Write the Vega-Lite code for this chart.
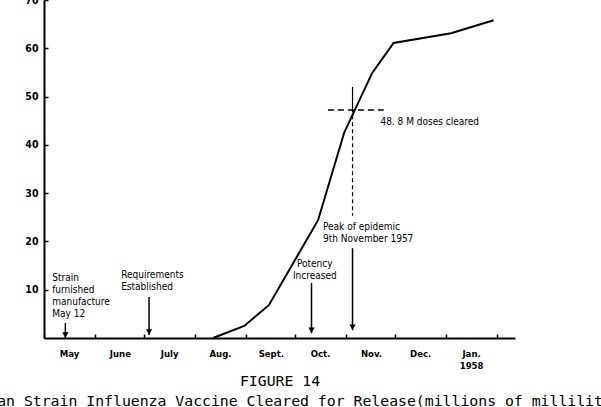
{
  "$schema": "https://vega.github.io/schema/vega-lite/v6.json",
  "width": 471,
  "height": 338,
  "autosize": {"type": "none"},
  "padding": {"left": 44, "top": 0, "right": 86, "bottom": 69},
  "background": "white",
  "config": {"view": {"stroke": null}, "font": "DejaVu Sans Condensed, Roboto, sans-serif"},
  "title": {
    "text": "Asian Strain Influenza Vaccine Cleared for Release(millions of milliliters)",
    "orient": "bottom",
    "anchor": "middle",
    "frame": "group",
    "dx": 25,
    "font": "DejaVu Sans Mono",
    "fontSize": 14.8,
    "fontWeight": "normal",
    "color": "black",
    "offset": 6
  },
  "datasets": {
    "curve": [
      {"date": "1957-08-12", "v": 0},
      {"date": "1957-08-31", "v": 2.5},
      {"date": "1957-09-15", "v": 6.8},
      {"date": "1957-10-15", "v": 24.4},
      {"date": "1957-10-31", "v": 42.6},
      {"date": "1957-11-17", "v": 54.9},
      {"date": "1957-11-30", "v": 61.1},
      {"date": "1958-01-04", "v": 63.1},
      {"date": "1958-01-30", "v": 65.8}
    ],
    "arrows": [
      {"date": "1957-05-14", "top": 3.1, "tip": 0},
      {"date": "1957-07-04", "top": 8.5, "tip": 0.6},
      {"date": "1957-10-11", "top": 11.4, "tip": 1.0},
      {"date": "1957-11-05", "top": 18.6, "tip": 1.6}
    ],
    "notesLeft": [
      {"date": "1957-05-06", "v": 13.5, "text": "Strain\nfurnished\nmanufacture\nMay 12"},
      {"date": "1957-06-17", "v": 14.1, "text": "Requirements\nEstablished"},
      {"date": "1957-10-18", "v": 24.0, "text": "Peak of epidemic\n9th November 1957"},
      {"date": "1957-11-22", "v": 45.8, "text": "48. 8 M doses cleared"}
    ],
    "notesCenter": [
      {"date": "1957-10-13", "v": 16.4, "text": "Potency\nIncreased"}
    ],
    "vsolid": [{"date": "1957-11-05", "top": 52.0, "bottom": 47.6}],
    "vdash": [{"date": "1957-11-05", "top": 47.6, "bottom": 25.3}],
    "hdash": [{"date": "1957-10-21", "date2": "1957-11-24", "v": 47.2}]
  },
  "encoding": {
    "x": {
      "field": "date",
      "type": "temporal",
      "title": "FIGURE 14",
      "scale": {
        "type": "utc",
        "domain": [
          {"year": 1957, "month": 5, "date": 1, "utc": true},
          {"year": 1958, "month": 2, "date": 12, "utc": true}
        ]
      },
      "axis": {
        "values": [
          {"year": 1957, "month": 5, "date": 1, "utc": true},
          {"year": 1957, "month": 6, "date": 1, "utc": true},
          {"year": 1957, "month": 7, "date": 1, "utc": true},
          {"year": 1957, "month": 8, "date": 1, "utc": true},
          {"year": 1957, "month": 9, "date": 1, "utc": true},
          {"year": 1957, "month": 10, "date": 1, "utc": true},
          {"year": 1957, "month": 11, "date": 1, "utc": true},
          {"year": 1957, "month": 12, "date": 1, "utc": true},
          {"year": 1958, "month": 1, "date": 1, "utc": true},
          {"year": 1958, "month": 2, "date": 1, "utc": true}
        ],
        "labelExpr": "[['Jan.','1958'], '', '', '', 'May', 'June', 'July', 'Aug.', 'Sept.', 'Oct.', 'Nov.', 'Dec.'][utcmonth(datum.value)]",
        "labelOffset": 25,
        "labelFlush": false,
        "labelOverlap": false,
        "labelFont": "DejaVu Sans Condensed, Roboto, sans-serif",
        "labelFontWeight": "bold",
        "labelFontSize": 9.5,
        "labelColor": "black",
        "labelPadding": 14,
        "labelLineHeight": 12,
        "title": "FIGURE 14",
        "titleFont": "DejaVu Sans Mono",
        "titleFontSize": 14.8,
        "titleFontWeight": "normal",
        "titleColor": "black",
        "titleAnchor": "middle",
        "titlePadding": 4,
        "grid": false,
        "domainColor": "black",
        "domainWidth": 2,
        "tickColor": "black",
        "tickWidth": 1.5,
        "tickSize": -4
      }
    }
  },
  "layer": [
    {
      "data": {"name": "curve"},
      "mark": {"type": "line", "color": "black", "strokeWidth": 2},
      "encoding": {
        "y": {
          "field": "v",
          "type": "quantitative",
          "title": null,
          "scale": {"domain": [0, 70], "nice": false},
          "axis": {
            "values": [10, 20, 30, 40, 50, 60, 70],
            "labelFont": "DejaVu Sans Condensed, Roboto, sans-serif",
            "labelFontWeight": "bold",
            "labelFontSize": 10.5,
            "labelColor": "black",
            "labelFlush": false,
            "labelOverlap": false,
            "labelPadding": 10,
            "grid": false,
            "domainColor": "black",
            "domainWidth": 2,
            "tickColor": "black",
            "tickWidth": 1.5,
            "tickSize": -4
          }
        }
      }
    },
    {
      "data": {"name": "arrows"},
      "mark": {"type": "rule", "color": "black", "strokeWidth": 1.5},
      "encoding": {
        "y": {"field": "top", "type": "quantitative", "title": null},
        "y2": {"field": "tip"}
      }
    },
    {
      "data": {"name": "arrows"},
      "mark": {"type": "point", "shape": "triangle-down", "filled": true, "color": "black", "opacity": 1, "size": 40, "yOffset": -3},
      "encoding": {
        "y": {"field": "tip", "type": "quantitative", "title": null}
      }
    },
    {
      "data": {"name": "vsolid"},
      "mark": {"type": "rule", "color": "black", "strokeWidth": 1.2},
      "encoding": {
        "y": {"field": "top", "type": "quantitative", "title": null},
        "y2": {"field": "bottom"}
      }
    },
    {
      "data": {"name": "vdash"},
      "mark": {"type": "rule", "color": "black", "strokeWidth": 1.2, "strokeDash": [4, 3]},
      "encoding": {
        "y": {"field": "top", "type": "quantitative", "title": null},
        "y2": {"field": "bottom"}
      }
    },
    {
      "data": {"name": "hdash"},
      "mark": {"type": "rule", "color": "black", "strokeWidth": 1.5, "strokeDash": [6, 4]},
      "encoding": {
        "x2": {"field": "date2"},
        "y": {"field": "v", "type": "quantitative", "title": null}
      }
    },
    {
      "data": {"name": "notesLeft"},
      "mark": {"type": "text", "align": "left", "baseline": "top", "lineBreak": "\n", "lineHeight": 12, "font": "DejaVu Sans Condensed, Roboto, sans-serif", "fontSize": 10, "color": "black"},
      "encoding": {
        "y": {"field": "v", "type": "quantitative", "title": null},
        "text": {"field": "text", "type": "nominal"}
      }
    },
    {
      "data": {"name": "notesCenter"},
      "mark": {"type": "text", "align": "center", "baseline": "top", "lineBreak": "\n", "lineHeight": 12, "font": "DejaVu Sans Condensed, Roboto, sans-serif", "fontSize": 10, "color": "black"},
      "encoding": {
        "y": {"field": "v", "type": "quantitative", "title": null},
        "text": {"field": "text", "type": "nominal"}
      }
    }
  ]
}
